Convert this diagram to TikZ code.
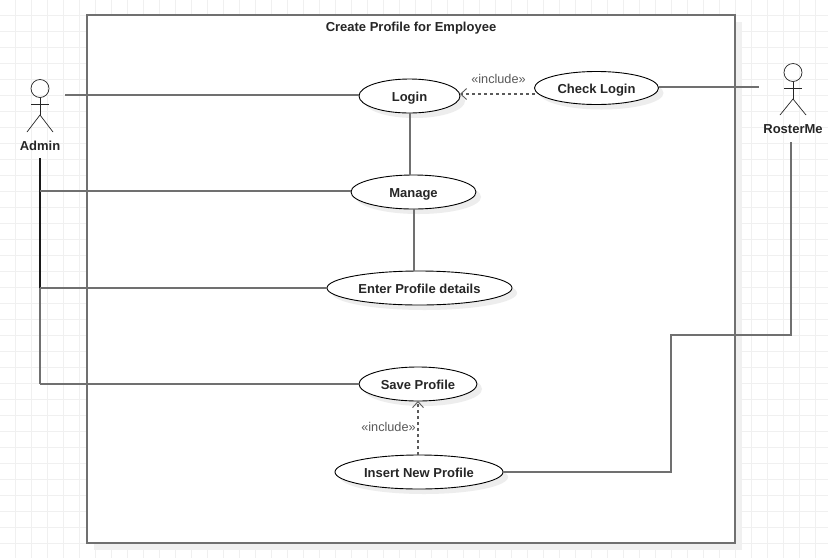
\documentclass[tikz,border=0pt]{standalone}
\usepackage{fontspec}
\setmainfont{Liberation Sans}
\usetikzlibrary{arrows.meta,shapes.geometric,shadows}

\definecolor{gridcol}{HTML}{F0F0F0}
\definecolor{linecol}{HTML}{707070}
\definecolor{incol}{HTML}{5A5A5A}

\tikzset{
  usecase/.style={ellipse,draw=black,fill=white,line width=0.9pt,inner sep=0pt,outer sep=0pt,font=\fontsize{13}{15}\selectfont\bfseries,text=black!85,
    text height=11pt,text depth=0pt,
    drop shadow={shadow xshift=5pt,shadow yshift=-5pt,fill=black!7,opacity=1}},
  actorlabel/.style={font=\fontsize{13}{15}\selectfont\bfseries,text=black!85,inner sep=0pt},
  inclabel/.style={font=\fontsize{12.7}{15}\selectfont,text=incol,inner sep=0pt},
  assoc/.style={draw=linecol,line width=1.4pt},
  incl/.style={draw=incol,line width=1.2pt,dash pattern=on 3pt off 3pt,-{Straight Barb[length=6pt,width=11pt,line width=0.9pt]}},
  stick/.style={draw=black!85,line width=0.7pt}
}

\begin{document}
\begin{tikzpicture}[line cap=butt,line join=miter,x=1pt,y=-1pt]
\useasboundingbox (0,0) rectangle (828,558);
\fill[white] (0,0) rectangle (828,558);
% grid
\foreach \i in {0,...,51} {
  \draw[gridcol,line width=1pt] (15.5+16*\i,0)-- (15.5+16*\i,558);
}
\foreach \i in {0,...,34} {
  \draw[gridcol,line width=1pt] (0,15.5+16*\i)-- (828,15.5+16*\i);
}
% system frame
\fill[black!6] (94,22) rectangle (742,550);
\node[draw=linecol,fill=white,line width=1.4pt,inner sep=0pt,outer sep=0pt,minimum width=648pt,minimum height=528pt] (frame) at (411,279) {};
\node[actorlabel] (title) at (411,28.5) {Create Profile for Employee};

% use cases
\node[usecase,minimum width=101pt,minimum height=34pt] (login) at (409.5,96) {Login};
\node[usecase,minimum width=124pt,minimum height=33pt] (check) at (596.5,88) {Check Login};
\node[usecase,minimum width=125pt,minimum height=34pt] (manage) at (413.5,192) {Manage};
\node[usecase,minimum width=185pt,minimum height=34pt] (enter) at (419.5,288) {Enter Profile details};
\node[usecase,minimum width=118pt,minimum height=34pt] (save) at (418,384) {Save Profile};
\node[usecase,minimum width=168pt,minimum height=34pt] (insert) at (419,472) {Insert New Profile};

% actors
\draw[stick] (40,88.5) circle (9);
\draw[stick] (40,97.5)-- (40,115);
\draw[stick] (31,104)-- (49,104);
\draw[stick] (27,132)-- (40,115)-- (53,132);
\node[actorlabel] (admin) at (40,145.5) {Admin};
\draw[stick] (793,72.5) circle (9);
\draw[stick] (793,81.5)-- (793,99);
\draw[stick] (784,88)-- (802,88);
\draw[stick] (780,115)-- (793,99)-- (806,115);
\node[actorlabel] (roster) at (793,129.5) {RosterMe};

% free ends
\coordinate (adminend) at (65,95);
\coordinate (adminstem) at (40,158);
\coordinate (adminmanage) at (40,191);
\coordinate (adminenter) at (40,288);
\coordinate (adminsave) at (40,384);
\coordinate (rosterend) at (759,87);
\coordinate (rosterstem) at (791,142);
\coordinate (rosterbend) at (791,335);
\coordinate (rosterbendb) at (671,335);
\coordinate (rosterbendc) at (671,472);

% associations
\draw[assoc] (adminend)-- (adminend -| login.west);
\draw[draw=black!90,line width=1.4pt] (adminstem)-- (adminenter);
\draw[assoc] (adminenter)-- (adminsave);
\draw[assoc] (adminmanage)-- (adminmanage -| manage.west);
\draw[assoc] (adminenter)-- (enter.west);
\draw[assoc] (adminsave)-- (save.west);
\draw[assoc] (login.south -| 410,0)-- (410,175);
\draw[assoc] (414,209)-- (414,271);
\draw[assoc] (check.east |- rosterend)-- (rosterend);
\draw[assoc] (rosterstem)-- (rosterbend)-- (rosterbendb)-- (rosterbendc)-- (insert.east);

% include dependencies
\draw[incl] (check.west |- 0,94)-- (login.east |- 0,94);
\draw[incl] (insert.north -| 418,0)-- (save.south -| 418,0);
\node[inclabel] (inclogin) at (498.5,79) {«include»};
\node[inclabel] (incsave) at (388.5,427) {«include»};
\end{tikzpicture}
\end{document}
